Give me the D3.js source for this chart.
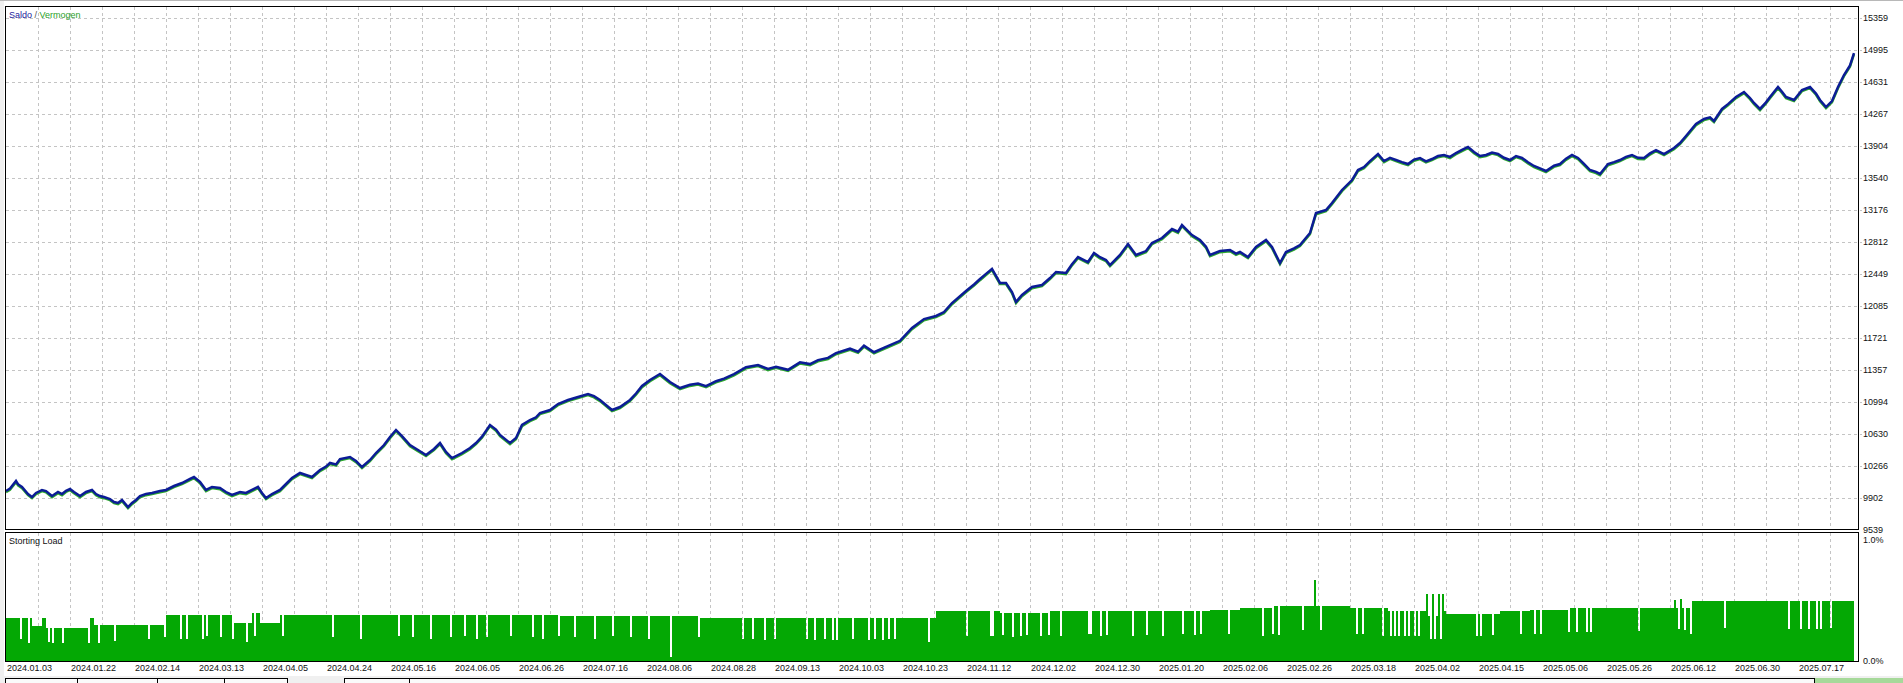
<!DOCTYPE html>
<html><head><meta charset="utf-8">
<script src="https://cdn.jsdelivr.net/npm/d3@7/dist/d3.min.js"></script>
<style>
body{margin:0;background:#fff;overflow:hidden}
text{font-family:"Liberation Sans",Arial,sans-serif;font-size:9px;fill:#111}
</style>
</head><body>
<svg id="c" width="1903" height="683"></svg>
<script>
// ---------- DATA ----------
const dateLabels = ["2024.01.03","2024.01.22","2024.02.14","2024.03.13","2024.04.05","2024.04.24","2024.05.16","2024.06.05","2024.06.26","2024.07.16","2024.08.06","2024.08.28","2024.09.13","2024.10.03","2024.10.23","2024.11.12","2024.12.02","2024.12.30","2025.01.20","2025.02.06","2025.02.26","2025.03.18","2025.04.02","2025.04.15","2025.05.06","2025.05.26","2025.06.12","2025.06.30","2025.07.17"];
const yTickLabels = [9539,9902,10266,10630,10994,11357,11721,12085,12449,12812,13176,13540,13904,14267,14631,14995,15359];
const loadTickLabels = [[0,"0.0%"],[1,"1.0%"]];

// balance curve: [deal index, value]
const balance = [[0,9982],[2,10010],[3,10039],[5,10096],[6,10060],[8,10028],[11,9948],[13,9914],[15,9960],[18,9994],[20,9982],[23,9925],[26,9971],[28,9948],[30,9985],[32,10005],[34,9971],[37,9925],[40,9971],[43,9994],[45,9948],[47,9925],[49,9914],[52,9891],[54,9857],[56,9846],[58,9880],[61,9800],[63,9846],[65,9880],[67,9925],[70,9948],[73,9960],[77,9982],[80,9994],[84,10039],[88,10073],[92,10119],[94,10141],[97,10085],[100,9994],[103,10028],[107,10016],[110,9971],[113,9937],[117,9971],[120,9960],[123,9994],[126,10028],[128,9960],[130,9903],[133,9948],[137,9994],[140,10062],[143,10130],[147,10187],[150,10164],[153,10141],[157,10221],[160,10260],[162,10301],[165,10285],[167,10346],[172,10369],[175,10323],[178,10255],[182,10335],[185,10414],[189,10505],[192,10596],[195,10676],[198,10607],[202,10505],[206,10448],[210,10392],[214,10460],[217,10528],[220,10426],[223,10357],[228,10414],[232,10471],[235,10528],[238,10600],[242,10733],[245,10680],[247,10619],[252,10528],[255,10585],[258,10733],[262,10789],[265,10820],[267,10869],[272,10903],[276,10971],[281,11017],[286,11051],[291,11085],[294,11060],[297,11017],[303,10903],[307,10937],[312,11017],[315,11090],[318,11176],[322,11244],[327,11312],[332,11221],[337,11153],[342,11190],[346,11205],[350,11175],[355,11230],[359,11260],[364,11310],[370,11390],[376,11415],[381,11370],[385,11395],[391,11360],[397,11445],[402,11425],[406,11470],[411,11495],[415,11550],[422,11600],[426,11565],[429,11635],[434,11560],[440,11620],[447,11690],[453,11835],[459,11937],[465,11972],[469,12017],[473,12119],[480,12256],[484,12330],[487,12392],[490,12450],[493,12506],[497,12347],[500,12347],[503,12244],[505,12131],[508,12210],[513,12301],[518,12324],[522,12403],[525,12472],[530,12460],[533,12560],[536,12642],[541,12585],[544,12688],[547,12640],[550,12608],[552,12551],[557,12665],[561,12790],[565,12665],[570,12710],[573,12801],[578,12858],[583,12960],[586,12930],[588,13006],[590,12960],[593,12892],[597,12835],[600,12760],[602,12665],[607,12710],[612,12722],[615,12680],[617,12699],[621,12642],[625,12756],[630,12835],[633,12756],[637,12574],[640,12699],[644,12740],[647,12779],[652,12915],[655,13142],[660,13176],[663,13256],[668,13404],[673,13517],[676,13631],[679,13665],[682,13733],[686,13813],[689,13733],[692,13770],[695,13745],[698,13720],[701,13699],[704,13750],[707,13768],[710,13730],[713,13756],[716,13790],[719,13802],[722,13780],[725,13824],[728,13860],[731,13893],[734,13836],[737,13790],[740,13802],[743,13830],[746,13813],[749,13770],[752,13745],[755,13790],[758,13768],[761,13720],[764,13677],[767,13650],[770,13620],[774,13680],[777,13699],[780,13760],[783,13802],[786,13768],[789,13700],[792,13631],[795,13610],[797,13586],[801,13699],[804,13720],[807,13745],[810,13780],[813,13802],[816,13770],[819,13768],[822,13820],[825,13858],[829,13813],[834,13881],[837,13938],[840,14018],[843,14100],[845,14154],[849,14211],[852,14230],[854,14188],[858,14325],[861,14380],[865,14461],[869,14518],[872,14450],[874,14393],[877,14325],[880,14400],[882,14461],[886,14575],[888,14520],[890,14461],[894,14427],[898,14540],[902,14575],[905,14500],[907,14427],[910,14347],[913,14415],[916,14575],[919,14711],[922,14820],[924,14961]];

// deposit load (%) : level segments [start index, value]
const loadLevels = [[0,0.347],[13,0.28],[18,0.347],[20,0.27],[42,0.347],[44,0.29],[80,0.37],[113,0.31],[123,0.39],[127,0.31],[137,0.37],[277,0.36],[347,0.35],[377,0.343],[465,0.40],[497,0.39],[522,0.405],[547,0.40],[572,0.405],[602,0.415],[617,0.43],[634,0.44],[672,0.43],[691,0.405],[720,0.38],[747,0.40],[762,0.415],[781,0.43],[838,0.43],[843,0.48]];
// single-deal lower loads
const loadDips = [[7,0.18],[11,0.145],[21,0.15],[23,0.145],[28,0.145],[41,0.145],[46,0.145],[54,0.16],[71,0.18],[79,0.19],[87,0.18],[90,0.18],[98,0.18],[100,0.2],[107,0.19],[113,0.18],[120,0.15],[124,0.2],[138,0.2],[163,0.19],[177,0.18],[196,0.2],[203,0.19],[212,0.18],[222,0.19],[229,0.2],[235,0.18],[240,0.19],[252,0.2],[263,0.19],[268,0.18],[276,0.2],[284,0.19],[294,0.18],[303,0.2],[312,0.19],[321,0.18],[332,0.03],[346,0.19],[368,0.18],[373,0.18],[379,0.17],[384,0.18],[400,0.18],[404,0.17],[409,0.18],[413,0.17],[415,0.17],[423,0.18],[431,0.17],[434,0.18],[438,0.17],[441,0.18],[444,0.18],[461,0.15],[480,0.2],[492,0.2],[493,0.2],[498,0.21],[503,0.19],[507,0.2],[510,0.21],[517,0.2],[521,0.21],[527,0.2],[541,0.22],[542,0.22],[547,0.2],[550,0.21],[563,0.2],[570,0.21],[578,0.2],[588,0.22],[594,0.21],[597,0.22],[611,0.22],[628,0.2],[633,0.22],[636,0.21],[648,0.25],[657,0.25],[675,0.22],[678,0.22],[688,0.2],[692,0.2],[694,0.2],[696,0.2],[699,0.2],[701,0.2],[704,0.2],[706,0.2],[711,0.36],[712,0.18],[714,0.18],[715,0.36],[717,0.18],[735,0.2],[737,0.2],[743,0.21],[757,0.22],[764,0.22],[767,0.22],[781,0.23],[785,0.23],[790,0.23],[792,0.23],[816,0.24],[836,0.26],[839,0.25],[842,0.22],[859,0.27],[891,0.26],[897,0.26],[901,0.26],[905,0.26],[907,0.26],[912,0.27]];
// single-deal higher loads
const loadSpikes = [[654,0.65],[710,0.54],[713,0.54],[716,0.54],[718,0.54],[834,0.49],[837,0.50]];
const lastDeal = 923;

// ---------- CHART ----------
const svg = d3.select("#c");
const W = 1903, H = 683;
const x = d3.scaleLinear().domain([0, 926]).range([6, 1858]);
const y = d3.scaleLinear().domain([9539, 15359]).range([530, 18]);
const yL = d3.scaleLinear().domain([0, 1]).range([661, 537]);

svg.append("rect").attr("width", W).attr("height", H).attr("fill", "#fff");
svg.append("rect").attr("x",0).attr("y",0).attr("width",4).attr("height",676).attr("fill","#f0f0f0");
svg.append("line").attr("x1",0).attr("x2",W).attr("y1",0.5).attr("y2",0.5).attr("stroke","#b8b8b8");

const grid = svg.append("g").attr("stroke", "#c4c4c4").attr("stroke-dasharray", "3,3").attr("stroke-width",1);
const vIdx = d3.range(16, 926, 16);
grid.selectAll("line.v1").data(vIdx).join("line")
  .attr("x1", d => Math.round(x(d)) + 0.5).attr("x2", d => Math.round(x(d)) + 0.5)
  .attr("y1", 7).attr("y2", 529);
grid.selectAll("line.v2").data(vIdx).join("line")
  .attr("x1", d => Math.round(x(d)) + 0.5).attr("x2", d => Math.round(x(d)) + 0.5)
  .attr("y1", 533).attr("y2", 661);
grid.selectAll("line.h").data(yTickLabels.slice(1)).join("line")
  .attr("x1", 6).attr("x2", 1862)
  .attr("y1", d => Math.round(y(d)) + 0.5).attr("y2", d => Math.round(y(d)) + 0.5);

// equity (drawn under) and balance lines
const lineGen = d3.line().x(d => x(d[0])).y(d => y(d[1]));
svg.append("path").datum(balance).attr("d", lineGen)
  .attr("fill", "none").attr("stroke", "#2ea82e").attr("stroke-width", 2.4)
  .attr("transform", "translate(0,1.2)");
svg.append("path").datum(balance).attr("d", lineGen)
  .attr("fill", "none").attr("stroke", "#0c1c96").attr("stroke-width", 2.5)
  .attr("stroke-linejoin", "miter");

// load bars
const overrides = new Map();
loadDips.forEach(d => overrides.set(d[0], d[1]));
loadSpikes.forEach(d => overrides.set(d[0], d[1]));
const levelAt = i => { let v = loadLevels[0][1]; for (const s of loadLevels) { if (s[0] <= i) v = s[1]; } return v; };
const loadData = d3.range(0, lastDeal + 1).map(i => ({ i, v: overrides.has(i) ? overrides.get(i) : levelAt(i) }));
svg.append("g").selectAll("rect").data(loadData).join("rect")
  .attr("x", d => x(d.i)).attr("width", d => x(d.i + 1) - x(d.i))
  .attr("y", d => yL(d.v)).attr("height", d => yL(0) - yL(d.v))
  .attr("fill", "#04a804").attr("shape-rendering", "crispEdges");

// panel borders
const frame = svg.append("g").attr("fill", "none").attr("stroke", "#000").attr("stroke-width", 1);
frame.append("rect").attr("x", 5.5).attr("y", 6.5).attr("width", 1853).attr("height", 523);
frame.append("rect").attr("x", 5.5).attr("y", 532.5).attr("width", 1853).attr("height", 129);

// right axis labels
svg.append("g").selectAll("text").data(yTickLabels).join("text")
  .attr("x", 1863).attr("y", d => y(d) + 3.2).text(d => d);
svg.append("g").selectAll("text").data(loadTickLabels).join("text")
  .attr("x", 1863).attr("y", d => yL(d[0]) + (d[0] === 1 ? 5.5 : 3.2)).text(d => d[1]);

// x axis labels
svg.append("g").selectAll("text").data(dateLabels).join("text")
  .attr("x", (d, k) => x(k * 32) + 1).attr("y", 671).text(d => d);

// legends
const lg = svg.append("text").attr("x", 9).attr("y", 18);
lg.append("tspan").style("fill","#22229a").text("Saldo");
lg.append("tspan").style("fill","#555").text(" / ");
lg.append("tspan").style("fill","#2aa02a").text("Vermogen");
svg.append("text").attr("x", 9).attr("y", 544).text("Storting Load");

// bottom tab strip
svg.append("rect").attr("x",0).attr("y",676).attr("width",W).attr("height",7).attr("fill","#f0f0f0");
const tabs = svg.append("g").attr("stroke","#000").attr("fill","#fafafa");
tabs.append("rect").attr("x",5.5).attr("y",678.5).attr("width",282).attr("height",10);
tabs.append("rect").attr("x",344.5).attr("y",678.5).attr("width",1470).attr("height",10);
[77,157,224,409].forEach(p => tabs.append("line").attr("x1",p+0.5).attr("x2",p+0.5).attr("y1",678).attr("y2",683));
svg.append("rect").attr("x",1815).attr("y",678).attr("width",88).attr("height",5).attr("fill","#a6d99a");
</script>
</body></html>
